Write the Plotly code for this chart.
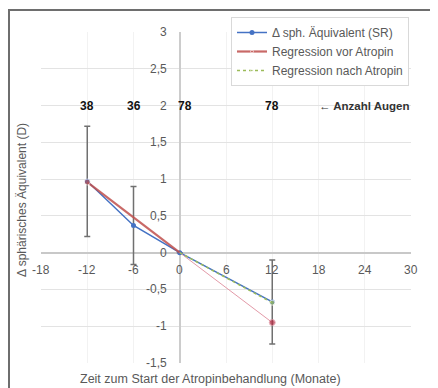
import plotly.graph_objects as go

# ---- data ----
months_sr = [-12, -6, 0, 12]
sr_values = [0.97, 0.37, 0.0, -0.67]
sr_errors = [0.75, 0.53, 0.0, 0.57]

months_vor = [-12, 0]
vor_values = [0.96, 0.0]
months_vor_ext = [0, 12]
vor_ext_values = [0.0, -0.95]

months_nach = [0, 12]
nach_values = [0.0, -0.68]

count_x = [-12, -6, 0, 12]
count_labels = ["38", "36", "78", "78"]

x_ticks = [-18, -12, -6, 0, 6, 12, 18, 24, 30]
y_ticks = [3, 2.5, 2, 1.5, 1, 0.5, 0, -0.5, -1, -1.5]
y_tick_labels = ["3", "2,5", "2", "1,5", "1", "0,5", "0", "-0,5", "-1", "-1,5"]

BLUE = "#4472C4"
RED = "#C0504D"
GREEN = "#9BBB59"
FONT = "Liberation Sans"

# the page adds an 8px body margin; lay out in window pixel coordinates
OFF = 8
W, H = 438 - OFF, 388 - OFF
PX_L, PX_R, PX_T, PX_B = 41, 411, 32, 363   # plot area in window pixels
L, T = PX_L - OFF, PX_T - OFF
R = W - (PX_R - OFF)
B = H - (PX_B - OFF)
pw, ph = W - L - R, H - T - B


def px(xw):
    return (xw - PX_L) / pw


def py(yw):
    return (PX_B - yw) / ph


fig = go.Figure()

fig.add_trace(go.Scatter(
    x=months_sr, y=sr_values, mode="lines+markers",
    name="Δ sph. Äquivalent (SR)",
    line=dict(color=BLUE, width=1.5),
    marker=dict(color=BLUE, size=5),
    error_y=dict(type="data", array=sr_errors, color="#707070", thickness=1.5, width=3),
))
fig.add_trace(go.Scatter(
    x=months_vor, y=vor_values, mode="lines+markers",
    name="Regression vor Atropin",
    line=dict(color=RED, width=2.2),
    marker=dict(color=RED, size=[6, 0]),
    opacity=0.85,
))
fig.add_trace(go.Scatter(
    x=months_vor_ext, y=vor_ext_values, mode="lines+markers",
    showlegend=False,
    line=dict(color="#E39AA8", width=1),
    marker=dict(color="#B0283F", size=[0, 6]),
))
fig.add_trace(go.Scatter(
    x=months_nach, y=nach_values, mode="lines+markers",
    name="Regression nach Atropin",
    line=dict(color=GREEN, width=1.5, dash="dot"),
    marker=dict(color=GREEN, size=[0, 5]),
))

annotations = []
for t in x_ticks:
    annotations.append(dict(x=t, y=0, xref="x", yref="y", text=str(t), showarrow=False,
                            yshift=-17, font=dict(family=FONT, size=12, color="#595959")))
for v, lab in zip(y_ticks, y_tick_labels):
    annotations.append(dict(x=0, y=v, xref="x", yref="y", text=lab, showarrow=False,
                            xanchor="right", xshift=-11,
                            font=dict(family=FONT, size=12, color="#595959")))
for cx, cl in zip(count_x, count_labels):
    annotations.append(dict(x=cx, y=2, xref="x", yref="y", text="<b>" + cl + "</b>",
                            showarrow=False, xshift=(5 if cx == 0 else 0),
                            font=dict(family=FONT, size=12, color="#111111")))
annotations.append(dict(x=17.8, y=2, xref="x", yref="y", text="<b>← Anzahl Augen</b>",
                        showarrow=False, xanchor="left",
                        font=dict(family=FONT, size=11.5, color="#333333")))
annotations.append(dict(x=px(22), y=py(200), xref="paper", yref="paper",
                        xanchor="center", yanchor="middle",
                        text="Δ sphärisches Äquivalent (D)", textangle=-90, showarrow=False,
                        font=dict(family=FONT, size=12, color="#595959")))
annotations.append(dict(x=px(210), y=py(379), xref="paper", yref="paper",
                        xanchor="center", yanchor="middle",
                        text="Zeit zum Start der Atropinbehandlung (Monate)", showarrow=False,
                        font=dict(family=FONT, size=12.5, color="#595959")))

shapes = [
    dict(type="line", xref="paper", yref="paper",
         x0=px(9), x1=px(9), y0=py(9), y1=py(395),
         line=dict(color="#6e6e6e", width=2)),
    dict(type="line", xref="paper", yref="paper",
         x0=px(8), x1=px(445), y0=py(10), y1=py(10),
         line=dict(color="#6e6e6e", width=2)),
]

fig.update_layout(
    width=W, height=H,
    margin=dict(l=L, r=R, t=T, b=B, autoexpand=False),
    paper_bgcolor="white", plot_bgcolor="white",
    font=dict(family=FONT, size=12, color="#595959"),
    xaxis=dict(range=[-18, 30], tickvals=x_ticks, showticklabels=False,
               showgrid=True, gridcolor="#f2f2f2", gridwidth=1,
               zeroline=True, zerolinecolor="#cccccc", zerolinewidth=1.5,
               showline=False, ticks=""),
    yaxis=dict(range=[-1.5, 3], tickvals=y_ticks, showticklabels=False,
               showgrid=True, gridcolor="#e3e3e3", gridwidth=1,
               zeroline=True, zerolinecolor="#c8c8c8", zerolinewidth=1.5,
               showline=False, ticks=""),
    legend=dict(x=px(231), y=py(17), xanchor="left", yanchor="top",
                bgcolor="white", bordercolor="#d9d9d9", borderwidth=1,
                font=dict(family=FONT, size=12, color="#595959"),
                tracegroupgap=0, itemwidth=30),
    showlegend=True,
    annotations=annotations,
    shapes=shapes,
)

fig.write_html("out.html")
